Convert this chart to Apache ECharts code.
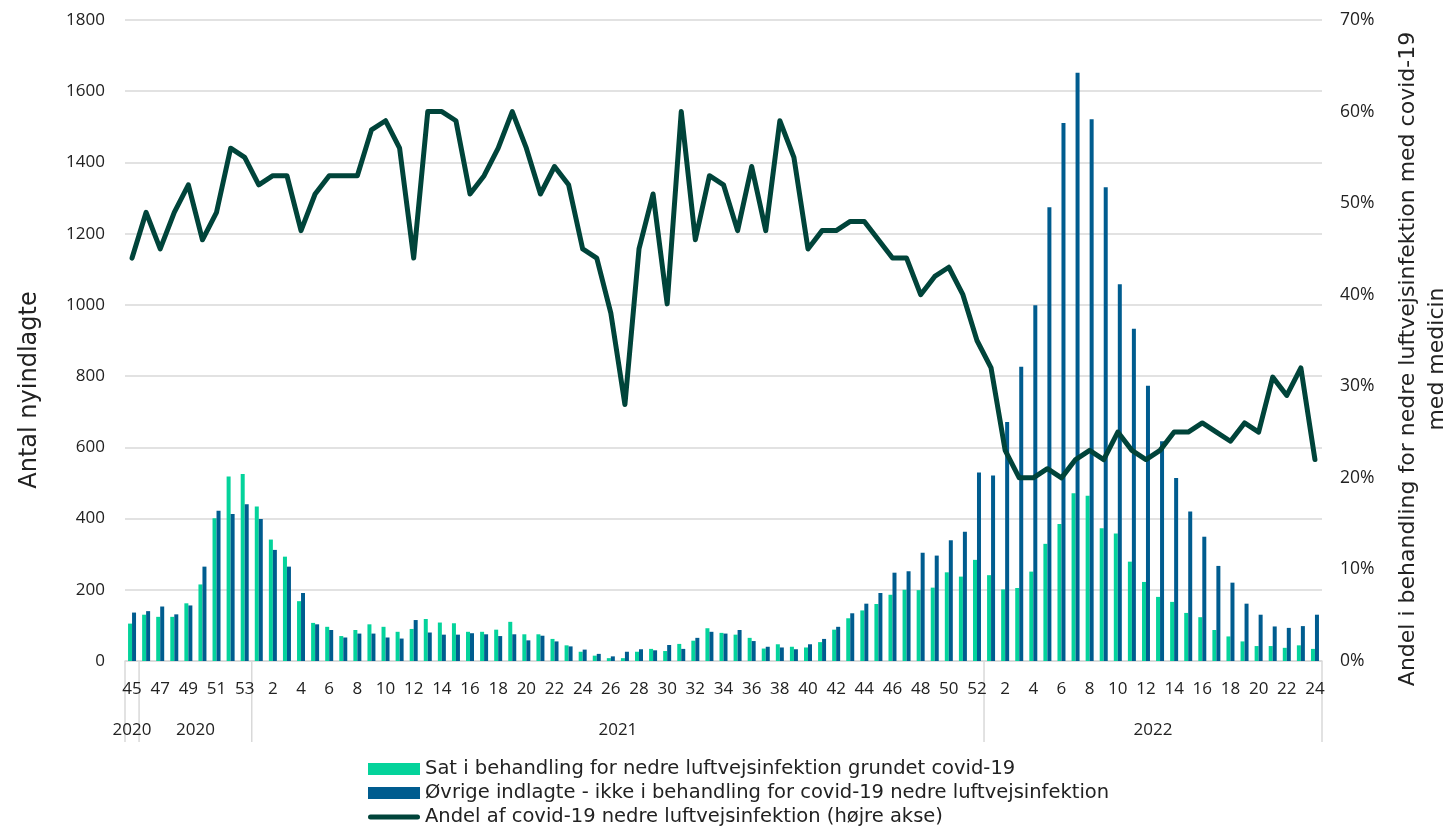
<!DOCTYPE html>
<html>
<head>
<meta charset="utf-8">
<script src="https://cdn.jsdelivr.net/npm/echarts@6/dist/echarts.min.js"></script>
<style>
html, body { margin: 0; padding: 0; background: #fff; }
#chart { width: 1452px; height: 829px; }
</style>
</head>
<body>
<div id="chart"></div>
<script>
// uge-numre (45/2020 - 24/2022)
const weekLabels = [
  '45', '46', '47', '48', '49', '50', '51', '52', '53',
  '1', '2', '3', '4', '5', '6', '7', '8', '9', '10', '11', '12', '13', '14', '15', '16', '17', '18', '19', '20',
  '21', '22', '23', '24', '25', '26', '27', '28', '29', '30', '31', '32', '33', '34', '35', '36', '37', '38', '39', '40',
  '41', '42', '43', '44', '45', '46', '47', '48', '49', '50', '51', '52',
  '1', '2', '3', '4', '5', '6', '7', '8', '9', '10', '11', '12', '13', '14', '15', '16', '17', '18', '19', '20',
  '21', '22', '23', '24'
];
// år-grupper under ugerne
const yearGroupLabels = ['2020', '2020', '2021', '2022'];
const yearGroupSizes = [1, 8, 52, 24];

// Sat i behandling for nedre luftvejsinfektion grundet covid-19
const treatedCovid = [
  105, 130, 124, 124, 162, 215, 401, 518, 525,
  434, 341, 293, 168, 107, 96, 70, 87, 103, 96, 82, 90, 118, 108, 106, 82, 82, 88, 110, 75,
  75, 62, 44, 26, 15, 8, 8, 26, 34, 28, 48, 57, 92, 79, 74, 65, 35, 47, 40, 38,
  53, 88, 120, 142, 160, 186, 200, 199, 206, 249, 237, 284,
  241, 201, 205, 251, 329, 385, 471, 464, 373, 358, 279, 222, 180, 166, 135, 123, 87, 69, 55, 42,
  42, 37, 44, 34
];
// Øvrige indlagte
const otherAdmitted = [
  136, 140, 153, 131, 156, 265, 422, 413, 440,
  399, 312, 265, 191, 103, 87, 66, 77, 77, 66, 63, 115, 80, 74, 74, 78, 75, 70, 75, 58,
  71, 55, 41, 32, 20, 13, 26, 33, 30, 45, 34, 65, 82, 77, 87, 56, 40, 38, 33, 47,
  62, 96, 134, 161, 191, 248, 252, 304, 296, 339, 363, 529,
  521, 671, 826, 999, 1274, 1511, 1652, 1521, 1330, 1058, 933, 773, 617, 514, 420, 349, 267, 220, 161, 130,
  97, 93, 98, 130
];
// Andel (%) - højre akse
const shareCovid = [
  44, 49, 45, 49, 52, 46, 49, 56, 55,
  52, 53, 53, 47, 51, 53, 53, 53, 58, 59, 56, 44, 60, 60, 59, 51, 53, 56, 60, 56,
  51, 54, 52, 45, 44, 38, 28, 45, 51, 39, 60, 46, 53, 52, 47, 54, 47, 59, 55, 45,
  47, 47, 48, 48, 46, 44, 44, 40, 42, 43, 40, 35,
  32, 23, 20, 20, 21, 20, 22, 23, 22, 25, 23, 22, 23, 25, 25, 26, 25, 24, 26, 25,
  31, 29, 32, 22
];

const FONT = 'Open Sans';
const TFONT = 'DejaVu Sans';
const TXT = '#222';
const GRID = '#d9d9d9';
const LINE = '#00443a';
// tyk streg med runde ender til linje-forklaringen (tom ramme giver 52x12 boks)
const lineIcon = 'path://M0,0L0,0M52,12L52,12M2.5,3.5L49.5,3.5A2.5,2.5,0,0,1,49.5,8.5L2.5,8.5A2.5,2.5,0,0,1,2.5,3.5Z';

const chart = echarts.init(document.getElementById('chart'));
chart.setOption({
  animation: false,
  textStyle: { fontFamily: FONT },
  grid: { left: 125, right: 130, top: 20, bottom: 168 },
  legend: {
    orient: 'vertical',
    left: 368,
    top: 759,
    padding: 0,
    itemWidth: 52,
    itemHeight: 12,
    itemGap: 4,
    textStyle: { fontFamily: TFONT, fontSize: 19.5, color: TXT, lineHeight: 20 },
    data: [
      { name: 'Sat i behandling for nedre luftvejsinfektion grundet covid-19', icon: 'rect' },
      { name: 'Øvrige indlagte - ikke i behandling for covid-19 nedre luftvejsinfektion', icon: 'rect' },
      { name: 'Andel af covid-19 nedre luftvejsinfektion (højre akse)', icon: lineIcon, itemStyle: { color: LINE } }
    ]
  },
  xAxis: {
    type: 'category',
    data: weekLabels,
    axisLine: { lineStyle: { color: GRID, width: 1.5 } },
    axisTick: { show: false },
    axisLabel: { interval: 1, margin: 20, fontSize: 17, color: TXT }
  },
  yAxis: [
    {
      type: 'value', min: 0, max: 1800, interval: 200,
      axisLine: { show: false }, axisTick: { show: false },
      axisLabel: { margin: 20, fontSize: 17, color: TXT, formatter: v => String(v) },
      splitLine: { lineStyle: { color: GRID, width: 1.5 } }
    },
    {
      type: 'value', min: 0, max: 70, interval: 10, position: 'right',
      axisLine: { show: false }, axisTick: { show: false },
      axisLabel: { margin: 18, fontSize: 17.5, color: TXT, formatter: '{value}%' },
      splitLine: { show: false }
    }
  ],
  series: [
    {
      name: 'Sat i behandling for nedre luftvejsinfektion grundet covid-19',
      type: 'bar', data: treatedCovid, barWidth: 4, barGap: '0%',
      itemStyle: { color: '#04d39b' }
    },
    {
      name: 'Øvrige indlagte - ikke i behandling for covid-19 nedre luftvejsinfektion',
      type: 'bar', data: otherAdmitted, barWidth: 4,
      itemStyle: { color: '#005c8f' }
    },
    {
      name: 'Andel af covid-19 nedre luftvejsinfektion (højre akse)',
      type: 'line', yAxisIndex: 1, data: shareCovid, symbol: 'none', z: 5,
      lineStyle: { width: 5, color: LINE, join: 'round', cap: 'round' },
      itemStyle: { color: LINE }
    }
  ]
});

// år-akse: skillelinjer og årstal under ugenumrene
const x0 = chart.convertToPixel({ xAxisIndex: 0 }, 0);
const step = chart.convertToPixel({ xAxisIndex: 0 }, 1) - x0;
const yBase = chart.convertToPixel({ yAxisIndex: 0 }, 0);
const graphics = [];
let left = x0 - step / 2;
graphics.push({ type: 'line', shape: { x1: left, y1: yBase, x2: left, y2: yBase + 81 }, style: { stroke: GRID, lineWidth: 1.5 } });
yearGroupSizes.forEach((n, k) => {
  const right = left + n * step;
  graphics.push({ type: 'line', shape: { x1: right, y1: yBase, x2: right, y2: yBase + 81 }, style: { stroke: GRID, lineWidth: 1.5 } });
  graphics.push({
    type: 'text', x: (left + right) / 2, y: yBase + 69,
    style: { text: yearGroupLabels[k], font: '17px "' + FONT + '"', fill: TXT, textAlign: 'center', textVerticalAlign: 'middle' }
  });
  left = right;
});
// aksetitler
graphics.push({
  type: 'text', x: 30, y: 390, rotation: Math.PI / 2,
  style: { text: 'Antal nyindlagte', font: '24px "' + TFONT + '"', fill: TXT, textAlign: 'center', textVerticalAlign: 'middle' }
});
graphics.push({
  type: 'text', x: 1408, y: 359, rotation: Math.PI / 2,
  style: { text: 'Andel i behandling for nedre luftvejsinfektion med covid-19', font: '22px "' + TFONT + '"', fill: TXT, textAlign: 'center', textVerticalAlign: 'middle' }
});
graphics.push({
  type: 'text', x: 1437, y: 359, rotation: Math.PI / 2,
  style: { text: 'med medicin', font: '22px "' + TFONT + '"', fill: TXT, textAlign: 'center', textVerticalAlign: 'middle' }
});
chart.setOption({ graphic: graphics });
</script>
</body>
</html>
